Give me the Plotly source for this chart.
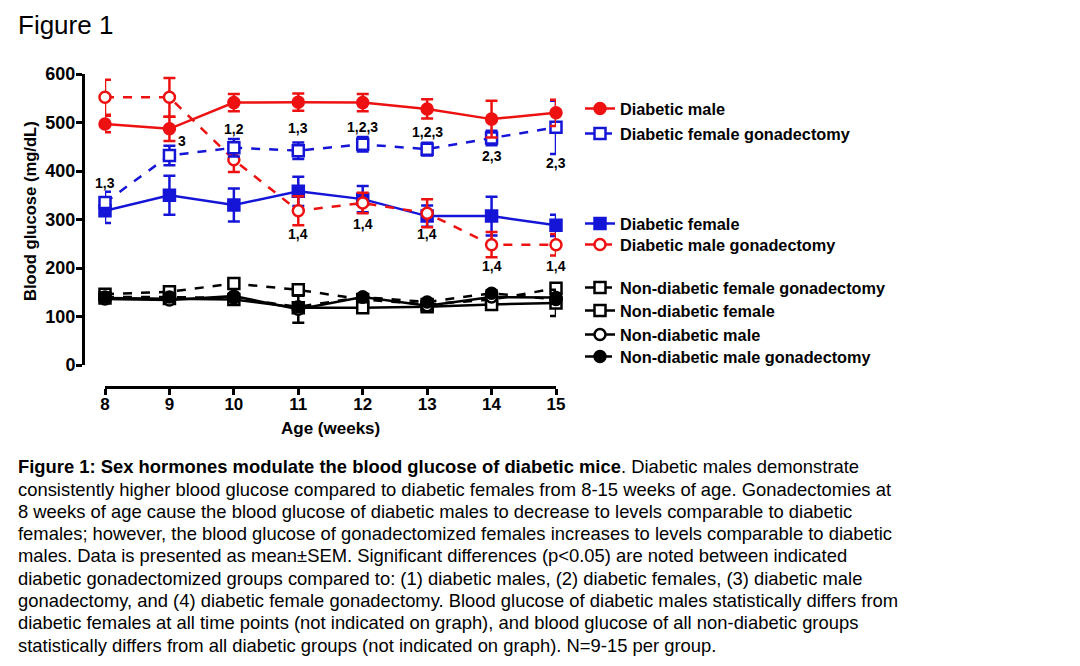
import plotly.graph_objects as go

# page has an 8px body margin: figure is drawn from (8, 8)
OFF = 8
W, H = 1080 - OFF, 666 - OFF


def px(x):
    return (x - OFF) / W


def py(y):
    return 1 - (y - OFF) / H


weeks = [8, 9, 10, 11, 12, 13, 14, 15]

# Diabetic groups
diab_male = [497, 487, 541, 542, 541, 528, 507, 520]
diab_male_err = [17, 25, 18, 18, 18, 20, 38, 27]
diab_female_gx = [335, 432, 448, 442, 455, 445, 468, 490]
diab_female_gx_err = [22, 20, 18, 17, 15, 13, 15, 55]
diab_female = [318, 350, 330, 358, 342, 307, 307, 288]
diab_female_err = [25, 40, 34, 30, 27, 22, 40, 22]
diab_male_gx = [552, 552, 423, 318, 334, 313, 248, 248]
diab_male_gx_err = [36, 40, 25, 30, 21, 29, 26, 22]

# Non-diabetic groups
nd_female_gx = [146, 151, 168, 155, 135, 125, 135, 158]
nd_female_gx_err = [5, 5, 6, 6, 5, 5, 6, 8]
nd_female = [138, 137, 135, 118, 118, 120, 125, 128]
nd_female_err = [5, 5, 5, 8, 6, 5, 6, 27]
nd_male = [136, 134, 142, 115, 140, 122, 140, 139]
nd_male_err = [5, 5, 5, 28, 6, 5, 6, 8]
nd_male_gx = [140, 140, 138, 120, 140, 130, 148, 135]
nd_male_gx_err = [5, 5, 5, 8, 6, 5, 6, 8]

# Significance labels
ann_x = [8, 9, 8, 9.2, 10, 11, 12, 13, 14, 15, 11, 12, 13, 14, 15]
ann_y = [607, 609, 375, 462, 487, 489, 491, 480, 431, 416, 270, 291, 270, 204, 204]
ann_text = ["2,4", "2,4", "1,3", "3", "1,2", "1,3", "1,2,3", "1,2,3", "2,3", "2,3",
            "1,4", "1,4", "1,4", "1,4", "1,4"]

y_ticks = [0, 100, 200, 300, 400, 500, 600]

caption_lines = [
    "<b>Figure 1: Sex hormones modulate the blood glucose of diabetic mice</b>. Diabetic males demonstrate",
    "consistently higher blood glucose compared to diabetic females from 8-15 weeks of age. Gonadectomies at",
    "8 weeks of age cause the blood glucose of diabetic males to decrease to levels comparable to diabetic",
    "females; however, the blood glucose of gonadectomized females increases to levels comparable to diabetic",
    "males. Data is presented as mean±SEM. Significant differences (p&lt;0.05) are noted between indicated",
    "diabetic gonadectomized groups compared to: (1) diabetic males, (2) diabetic females, (3) diabetic male",
    "gonadectomy, and (4) diabetic female gonadectomy. Blood glucose of diabetic males statistically differs from",
    "diabetic females at all time points (not indicated on graph), and blood glucose of all non-diabetic groups",
    "statistically differs from all diabetic groups (not indicated on graph). N=9-15 per group.",
]

FONT = "Arial, Liberation Sans, sans-serif"
RED = "#ee1111"
BLUE = "#1515d8"
BLACK = "#000000"

series = [
    # name, y, err, color, dash, symbol, fill, legend y px
    ("Non-diabetic female gonadectomy", nd_female_gx, nd_female_gx_err, BLACK, "dash", "square", "white", 288),
    ("Non-diabetic female", nd_female, nd_female_err, BLACK, "solid", "square", "white", 311),
    ("Non-diabetic male", nd_male, nd_male_err, BLACK, "solid", "circle", "white", 335),
    ("Non-diabetic male gonadectomy", nd_male_gx, nd_male_gx_err, BLACK, "dash", "circle", BLACK, 357),
    ("Diabetic female", diab_female, diab_female_err, BLUE, "solid", "square", BLUE, 224),
    ("Diabetic male gonadectomy", diab_male_gx, diab_male_gx_err, RED, "dash", "circle", "white", 245),
    ("Diabetic female gonadectomy", diab_female_gx, diab_female_gx_err, BLUE, "dash", "square", "white", 134),
    ("Diabetic male", diab_male, diab_male_err, RED, "solid", "circle", RED, 109),
]

fig = go.Figure()
legends = {}
for i, (name, ys, errs, col, dash, sym, fill, ly) in enumerate(series):
    lname = "legend" if i == 0 else f"legend{i+1}"
    fig.add_trace(go.Scatter(
        x=weeks, y=ys, name=name, mode="lines+markers",
        line=dict(color=col, width=2.5, dash=dash),
        marker=dict(symbol=sym, size=11, color=fill, line=dict(color=col, width=2.5)),
        error_y=dict(type="data", array=errs, color=col, thickness=2.5, width=6),
        cliponaxis=False, legend=lname,
    ))
    legends[lname] = dict(
        x=px(580), xanchor="left", y=py(ly), yanchor="middle",
        bgcolor="rgba(0,0,0,0)", borderwidth=0,
        font=dict(family=FONT, size=16.3, color="black", weight="bold"),
        itemwidth=30,
    )

annotations = []
for ax_, ay_, t in zip(ann_x, ann_y, ann_text):
    annotations.append(dict(x=ax_, y=ay_, xref="x", yref="y", text=t, showarrow=False,
                            font=dict(family=FONT, size=14, color="black", weight="bold")))

annotations.append(dict(x=px(16), y=py(24.5), xref="paper", yref="paper", text="Figure 1",
                        showarrow=False, xanchor="left", yanchor="middle",
                        font=dict(family=FONT, size=26, color="black")))
annotations.append(dict(x=px(30), y=py(211), xref="paper", yref="paper",
                        text="Blood glucose (mg/dL)", textangle=-90, showarrow=False,
                        xanchor="center", yanchor="middle",
                        font=dict(family=FONT, size=16.6, color="black", weight="bold")))
annotations.append(dict(x=px(330), y=py(428), xref="paper", yref="paper",
                        text="Age (weeks)", showarrow=False, xanchor="center", yanchor="middle",
                        font=dict(family=FONT, size=17, color="black", weight="bold")))
for k, line in enumerate(caption_lines):
    annotations.append(dict(x=px(16), y=py(466.7 + 22.3 * k), xref="paper", yref="paper",
                            text=line, showarrow=False, xanchor="left", yanchor="middle",
                            font=dict(family=FONT, size=18.4, color="black")))

fig.update_layout(
    width=W, height=H,
    margin=dict(l=0, r=0, t=0, b=0, autoexpand=False),
    paper_bgcolor="white", plot_bgcolor="white",
    showlegend=True,
    xaxis=dict(domain=[px(105), px(556)], range=[8, 15], anchor="free", position=py(387),
               tickvals=weeks, showline=True, linecolor="black", linewidth=3,
               ticks="outside", ticklen=6, tickwidth=3, tickcolor="black",
               showgrid=False, zeroline=False, automargin=False, ticklabelstandoff=-5,
               tickfont=dict(family=FONT, size=17, color="black", weight="bold")),
    yaxis=dict(domain=[py(365), py(74)], range=[0, 600], anchor="free", position=px(83),
               tickvals=y_ticks, showline=True, linecolor="black", linewidth=3,
               ticks="outside", ticklen=6, tickwidth=3, tickcolor="black",
               showgrid=False, zeroline=False, automargin=False, ticklabelstandoff=-3,
               tickfont=dict(family=FONT, size=18, color="black", weight="bold")),
    annotations=annotations,
    **legends,
)

fig.write_html("out.html")
